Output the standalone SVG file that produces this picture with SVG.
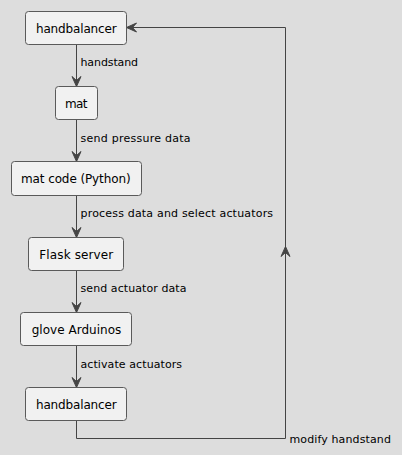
<svg xmlns="http://www.w3.org/2000/svg" width="402" height="455" viewBox="0 0 402 455">
<defs>
<style>
.node rect{fill:#F1F1F1;stroke:#5A5A5A;stroke-width:1}
.node text{font-family:"DejaVu Sans",sans-serif;font-size:12px;fill:#000;text-anchor:middle}
.edge{fill:none;stroke:#444;stroke-width:1}
.head{fill:#444;stroke:#444;stroke-width:1}
.lbl{font-family:"DejaVu Sans",sans-serif;font-size:11px;fill:#000}
</style>
</defs>
<rect width="402" height="455" fill="#DDDDDD"/>
<g id="connectors">
<line class="edge" x1="76.5" y1="44.5" x2="76.5" y2="86"/>
<polygon class="head" points="72,76.5 76.5,86.5 81,76.5 76.5,80.5"/>
<text class="lbl" x="80.5" y="66" textLength="57.6" lengthAdjust="spacing">handstand</text>
<line class="edge" x1="76.5" y1="119.5" x2="76.5" y2="161"/>
<polygon class="head" points="72,151.5 76.5,161.5 81,151.5 76.5,155.5"/>
<text class="lbl" x="80.5" y="141.5" textLength="110" lengthAdjust="spacing">send pressure data</text>
<line class="edge" x1="76.5" y1="195.5" x2="76.5" y2="237"/>
<polygon class="head" points="72,227.5 76.5,237.5 81,227.5 76.5,231.5"/>
<text class="lbl" x="80.5" y="217" textLength="192.6" lengthAdjust="spacing">process data and select actuators</text>
<line class="edge" x1="76.5" y1="270.5" x2="76.5" y2="312"/>
<polygon class="head" points="72,302.5 76.5,312.5 81,302.5 76.5,306.5"/>
<text class="lbl" x="80.5" y="292" textLength="106" lengthAdjust="spacing">send actuator data</text>
<line class="edge" x1="76.5" y1="345.5" x2="76.5" y2="387"/>
<polygon class="head" points="72,377.5 76.5,387.5 81,377.5 76.5,381.5"/>
<text class="lbl" x="80.5" y="367.5" textLength="101.6" lengthAdjust="spacing">activate actuators</text>
<polyline class="edge" points="76.5,420.5 76.5,438.5 285.5,438.5 285.5,27.5 127,27.5"/>
<polygon class="head" points="281,256.5 285.5,246.5 290,256.5 285.5,252.5"/>
<polygon class="head" points="136.5,23 126.5,27.5 136.5,32 132.5,27.5"/>
<text class="lbl" x="289.5" y="442.5" textLength="101.4" lengthAdjust="spacing">modify handstand</text>
</g>
<g id="n_handbalancer_top" class="node"><rect x="25.5" y="11.5" width="101" height="33" rx="3"/><text x="76.3" y="32.5" textLength="80.7" lengthAdjust="spacing">handbalancer</text></g>
<g id="n_mat" class="node"><rect x="55.5" y="86.5" width="42" height="33" rx="3"/><text x="76.2" y="107.5" textLength="22.3" lengthAdjust="spacing">mat</text></g>
<g id="n_matcode" class="node"><rect x="11.5" y="161.5" width="130" height="34" rx="3"/><text x="75.8" y="183" textLength="109.7" lengthAdjust="spacing">mat code (Python)</text></g>
<g id="n_flask" class="node"><rect x="28.5" y="237.5" width="95" height="33" rx="3"/><text x="76.3" y="258.5" textLength="74" lengthAdjust="spacing">Flask server</text></g>
<g id="n_glove" class="node"><rect x="20.5" y="312.5" width="111" height="33" rx="3"/><text x="76.5" y="333.5" textLength="89.6" lengthAdjust="spacing">glove Arduinos</text></g>
<g id="n_handbalancer_bottom" class="node"><rect x="25.5" y="387.5" width="101" height="33" rx="3"/><text x="76.3" y="408.5" textLength="80.7" lengthAdjust="spacing">handbalancer</text></g>
</svg>
